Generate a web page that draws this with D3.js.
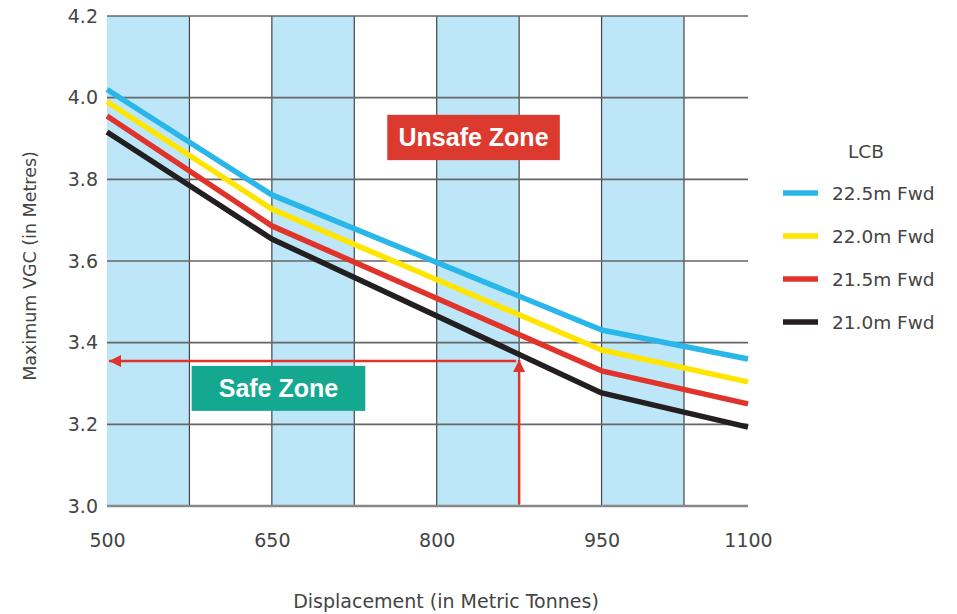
<!DOCTYPE html>
<html>
<head>
<meta charset="utf-8">
<script src="https://cdn.jsdelivr.net/npm/d3@7"></script>
<style>
  body { margin: 0; background: #fff; }
  text { font-family: "DejaVu Sans", sans-serif; fill: #444; }
  .tick text { font-size: 19px; fill: #444; font-family: "DejaVu Sans", sans-serif; }
  .zone { font-family: "Liberation Sans", Arial, sans-serif; font-weight: bold; font-size: 25px; fill: #fff; }
</style>
</head>
<body>
<script>
// Width and height
var w = 957;
var h = 614;

// data
var displacement = [500, 650, 950, 1100];
var lcb = ["22.5m Fwd", "22.0m Fwd", "21.5m Fwd", "21.0m Fwd"];
var vgc225 = [4.02, 3.762, 3.431, 3.36];
var vgc220 = [3.99, 3.727, 3.382, 3.304];
var vgc215 = [3.955, 3.686, 3.331, 3.25];
var vgc210 = [3.916, 3.654, 3.277, 3.193];
var seriesColors = ["#29b6e9", "#ffe500", "#e0342b", "#231f20"];

var xTicks = [500, 650, 800, 950, 1100];
var xGrid = [575, 650, 725, 800, 875, 950, 1025];
var stripes = [[500, 575], [650, 725], [800, 875], [950, 1025]];
var yTicks = [3.0, 3.2, 3.4, 3.6, 3.8, 4.0, 4.2];

// example reading shown with the arrows
var exampleDisp = 875;
var exampleVgc = 3.355;

// zone labels: [label, left disp, right disp, top vgc, bottom vgc, colour]
var zones = [
  ["Unsafe Zone", 755, 912, 3.958, 3.847, "#dc3a2f"],
  ["Safe Zone", 577, 735, 3.343, 3.233, "#13a88f"]
];

var series = [vgc225, vgc220, vgc215, vgc210];

// x axis in the original is not quite uniform
var xScale = d3.scaleLinear()
               .domain([500, 1025, 1100])
               .range([107, 684, 748]);

var yScale = d3.scaleLinear()
               .domain([3.0, 4.2])
               .range([506, 16]);

var svg = d3.select("body")
            .append("svg")
            .attr("width", w)
            .attr("height", h);

// blue stripes
svg.selectAll("rect.stripe")
   .data(stripes)
   .enter()
   .append("rect")
   .attr("class", "stripe")
   .attr("x", function(d) { return xScale(d[0]); })
   .attr("width", function(d) { return xScale(d[1]) - xScale(d[0]); })
   .attr("y", yScale(4.2))
   .attr("height", yScale(3.0) - yScale(4.2))
   .attr("fill", "#bde6f8");

// vertical grid
svg.selectAll("line.vgrid")
   .data(xGrid)
   .enter()
   .append("line")
   .attr("class", "vgrid")
   .attr("x1", function(d) { return xScale(d); })
   .attr("x2", function(d) { return xScale(d); })
   .attr("y1", yScale(4.2))
   .attr("y2", yScale(3.0))
   .attr("stroke", "#444")
   .attr("stroke-width", 1.2);

// horizontal grid
svg.selectAll("line.hgrid")
   .data(yTicks)
   .enter()
   .append("line")
   .attr("class", "hgrid")
   .attr("x1", xScale(500))
   .attr("x2", xScale(1100))
   .attr("y1", function(d) { return yScale(d); })
   .attr("y2", function(d) { return yScale(d); })
   .attr("stroke", function(d) { return d === 3.0 ? "#888" : "#666"; })
   .attr("stroke-width", function(d) { return d === 3.0 ? 2.5 : 1.6; });

// axes (labels only)
var xAxis = d3.axisBottom(xScale)
              .tickValues(xTicks)
              .tickSize(0)
              .tickPadding(28)
              .tickFormat(d3.format("d"));

var yAxis = d3.axisLeft(yScale)
              .tickValues(yTicks)
              .tickSize(0)
              .tickPadding(9)
              .tickFormat(d3.format(".1f"));

svg.append("g")
   .attr("transform", "translate(0," + yScale(3.0) + ")")
   .call(xAxis)
   .call(function(g) { g.select(".domain").remove(); });

svg.append("g")
   .attr("transform", "translate(" + xScale(500) + ",0)")
   .call(yAxis)
   .call(function(g) { g.select(".domain").remove(); });

// axis titles
svg.append("text")
   .attr("x", 446)
   .attr("y", 608)
   .attr("text-anchor", "middle")
   .attr("font-size", 19)
   .text("Displacement (in Metric Tonnes)");

svg.append("text")
   .attr("transform", "translate(36,266) rotate(-90)")
   .attr("text-anchor", "middle")
   .attr("font-size", 17.5)
   .text("Maximum VGC (in Metres)");

// arrows
var defs = svg.append("defs");
defs.append("marker")
    .attr("id", "arrow")
    .attr("viewBox", "0 0 10 10")
    .attr("refX", 10)
    .attr("refY", 5)
    .attr("markerWidth", 6.5)
    .attr("markerHeight", 4.8)
    .attr("markerUnits", "strokeWidth")
    .attr("orient", "auto")
    .append("path")
    .attr("d", "M0,0L10,5L0,10Z")
    .attr("fill", "#e0342b");

svg.append("line")
   .attr("x1", xScale(exampleDisp) - 3)
   .attr("x2", xScale(500) + 2)
   .attr("y1", yScale(exampleVgc))
   .attr("y2", yScale(exampleVgc))
   .attr("stroke", "#e0342b")
   .attr("stroke-width", 2.5)
   .attr("marker-end", "url(#arrow)");

svg.append("line")
   .attr("x1", xScale(exampleDisp))
   .attr("x2", xScale(exampleDisp))
   .attr("y1", yScale(3.0) - 2)
   .attr("y2", yScale(exampleVgc) - 1)
   .attr("stroke", "#e0342b")
   .attr("stroke-width", 2.5)
   .attr("marker-end", "url(#arrow)");

// lines
var line_generator = d3.line()
                       .x(function(d, i) { return xScale(displacement[i]); })
                       .y(function(d) { return yScale(d); });

svg.selectAll("path.series")
   .data(series)
   .enter()
   .append("path")
   .attr("class", "series")
   .attr("d", line_generator)
   .attr("fill", "none")
   .attr("stroke", function(d, i) { return seriesColors[i]; })
   .attr("stroke-width", 5.5)
   .attr("stroke-linejoin", "round");

// zone boxes
var zg = svg.selectAll("g.zone")
            .data(zones)
            .enter()
            .append("g");

zg.append("rect")
  .attr("x", function(d) { return xScale(d[1]); })
  .attr("width", function(d) { return xScale(d[2]) - xScale(d[1]); })
  .attr("y", function(d) { return yScale(d[3]); })
  .attr("height", function(d) { return yScale(d[4]) - yScale(d[3]); })
  .attr("fill", function(d) { return d[5]; });

zg.append("text")
  .attr("class", "zone")
  .attr("x", function(d) { return (xScale(d[1]) + xScale(d[2])) / 2; })
  .attr("y", function(d) { return (yScale(d[3]) + yScale(d[4])) / 2 + 9; })
  .attr("text-anchor", "middle")
  .text(function(d) { return d[0]; });

// legend
svg.append("text")
   .attr("x", 866)
   .attr("y", 158)
   .attr("text-anchor", "middle")
   .attr("font-size", 18.5)
   .text("LCB");

var legend = svg.selectAll("g.legend")
                .data(lcb)
                .enter()
                .append("g")
                .attr("transform", function(d, i) { return "translate(783," + (193 + i * 43) + ")"; });

legend.append("line")
      .attr("x1", 0)
      .attr("x2", 35)
      .attr("stroke", function(d, i) { return seriesColors[i]; })
      .attr("stroke-width", 5.5);

legend.append("text")
      .attr("x", 49)
      .attr("y", 7)
      .attr("font-size", 18.5)
      .text(function(d) { return d; });
</script>
</body>
</html>
